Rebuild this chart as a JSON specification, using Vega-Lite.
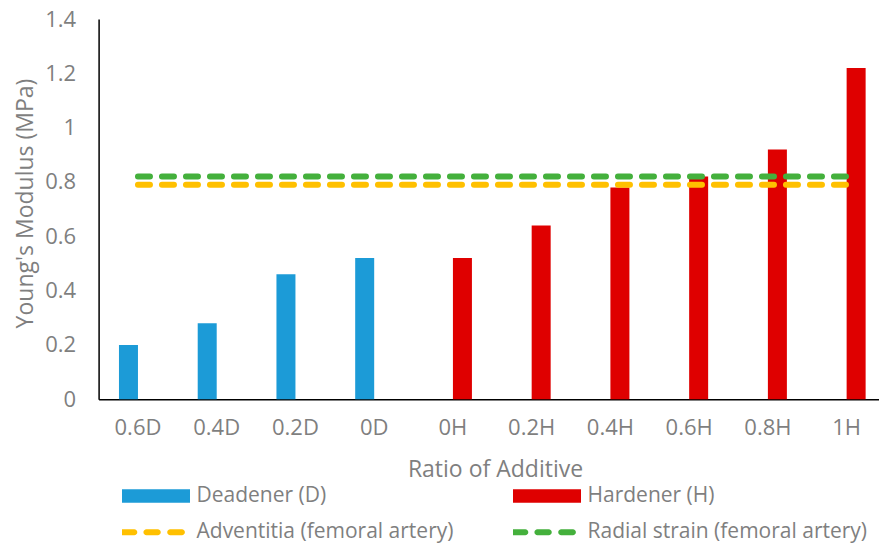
{
  "$schema": "https://vega.github.io/schema/vega-lite/v6.json",
  "width": 780.4,
  "height": 380.3,
  "autosize": {"type": "none"},
  "padding": {"left": 98.6, "top": 19, "right": 0, "bottom": 143.7},
  "background": "white",
  "config": {
    "view": {"stroke": null},
    "font": "Open Sans",
    "axis": {
      "grid": false,
      "ticks": false,
      "tickSize": 0,
      "domainColor": "#000000",
      "domainWidth": 1.5,
      "labelColor": "#7f7f7f",
      "labelFontSize": 22,
      "labelFont": "Open Sans",
      "titleColor": "#7f7f7f",
      "titleFont": "Open Sans",
      "titleFontSize": 23,
      "titleFontWeight": "normal"
    }
  },
  "datasets": {
    "bars": [
      {"ratio": "0.6D", "series": "Deadener (D)", "modulus": 0.2},
      {"ratio": "0.4D", "series": "Deadener (D)", "modulus": 0.28},
      {"ratio": "0.2D", "series": "Deadener (D)", "modulus": 0.46},
      {"ratio": "0D", "series": "Deadener (D)", "modulus": 0.52},
      {"ratio": "0H", "series": "Hardener (H)", "modulus": 0.52},
      {"ratio": "0.2H", "series": "Hardener (H)", "modulus": 0.64},
      {"ratio": "0.4H", "series": "Hardener (H)", "modulus": 0.78},
      {"ratio": "0.6H", "series": "Hardener (H)", "modulus": 0.82},
      {"ratio": "0.8H", "series": "Hardener (H)", "modulus": 0.92},
      {"ratio": "1H", "series": "Hardener (H)", "modulus": 1.22}
    ],
    "references": [
      {"ratio": "0.6D", "series": "Adventitia (femoral artery)", "modulus": 0.79},
      {"ratio": "0.4D", "series": "Adventitia (femoral artery)", "modulus": 0.79},
      {"ratio": "0.2D", "series": "Adventitia (femoral artery)", "modulus": 0.79},
      {"ratio": "0D", "series": "Adventitia (femoral artery)", "modulus": 0.79},
      {"ratio": "0H", "series": "Adventitia (femoral artery)", "modulus": 0.79},
      {"ratio": "0.2H", "series": "Adventitia (femoral artery)", "modulus": 0.79},
      {"ratio": "0.4H", "series": "Adventitia (femoral artery)", "modulus": 0.79},
      {"ratio": "0.6H", "series": "Adventitia (femoral artery)", "modulus": 0.79},
      {"ratio": "0.8H", "series": "Adventitia (femoral artery)", "modulus": 0.79},
      {"ratio": "1H", "series": "Adventitia (femoral artery)", "modulus": 0.79},
      {"ratio": "0.6D", "series": "Radial strain (femoral artery)", "modulus": 0.82},
      {"ratio": "0.4D", "series": "Radial strain (femoral artery)", "modulus": 0.82},
      {"ratio": "0.2D", "series": "Radial strain (femoral artery)", "modulus": 0.82},
      {"ratio": "0D", "series": "Radial strain (femoral artery)", "modulus": 0.82},
      {"ratio": "0H", "series": "Radial strain (femoral artery)", "modulus": 0.82},
      {"ratio": "0.2H", "series": "Radial strain (femoral artery)", "modulus": 0.82},
      {"ratio": "0.4H", "series": "Radial strain (femoral artery)", "modulus": 0.82},
      {"ratio": "0.6H", "series": "Radial strain (femoral artery)", "modulus": 0.82},
      {"ratio": "0.8H", "series": "Radial strain (femoral artery)", "modulus": 0.82},
      {"ratio": "1H", "series": "Radial strain (femoral artery)", "modulus": 0.82}
    ]
  },
  "encoding": {
    "x": {
      "field": "ratio",
      "type": "nominal",
      "sort": null,
      "scale": {
        "type": "band",
        "domain": ["0.6D", "0.4D", "0.2D", "0D", "0H", "0.2H", "0.4H", "0.6H", "0.8H", "1H"],
        "paddingInner": 0.5174,
        "paddingOuter": 0.2587,
        "range": [0, 787.4]
      },
      "axis": {
        "title": "Ratio of Additive",
        "labelAngle": 0,
        "labelPadding": 18,
        "titleX": 396.4,
        "titleY": 77.4,
        "titleBaseline": "alphabetic",
        "titleAnchor": "middle"
      }
    },
    "y": {
      "field": "modulus",
      "type": "quantitative",
      "scale": {"domain": [0, 1.4], "nice": false, "zero": true},
      "axis": {
        "title": "Young's Modulus (MPa)",
        "values": [0, 0.2, 0.4, 0.6, 0.8, 1, 1.2, 1.4],
        "format": ".1~f",
        "labelPadding": 23,
        "titleX": -66.6,
        "titleY": 184,
        "titleAngle": -90,
        "titleBaseline": "alphabetic",
        "titleAnchor": "middle"
      }
    },
    "color": {
      "field": "series",
      "type": "nominal",
      "scale": {
        "domain": ["Deadener (D)", "Hardener (H)", "Adventitia (femoral artery)", "Radial strain (femoral artery)"],
        "range": ["#1c9bd7", "#df0000", "#ffc000", "#44b03c"]
      },
      "legend": {
        "title": null,
        "orient": "none",
        "direction": "horizontal",
        "legendX": 23.4,
        "legendY": 464,
        "columns": 2,
        "columnPadding": 36,
        "rowPadding": 10.3,
        "clipHeight": 26,
        "symbolSize": 4624,
        "symbolType": "M-1,-0.2H1V0.2H-1Z",
        "labelFont": "Open Sans",
        "labelFontSize": 21,
        "labelColor": "#7f7f7f",
        "labelOffset": 6.5,
        "labelLimit": 400,
        "gridAlign": "all",
        "symbolOpacity": 1,
        "symbolStrokeWidth": 0,
        "encode": {
          "symbols": {
            "update": {
              "fill": {"scale": "color", "field": "value"},
              "stroke": {"value": "transparent"},
              "strokeWidth": {"value": 0},
              "opacity": {"value": 1},
              "shape": {"signal": "indexof(['Deadener (D)', 'Hardener (H)'], datum.value) >= 0 ? 'M-1,-0.2H1V0.2H-1Z' : 'M-0.992,-0.088H-0.638A0.088,0.088,0,0,1,-0.638,0.088H-0.992A0.088,0.088,0,0,1,-0.992,-0.088ZM-0.282,-0.088H0.052A0.088,0.088,0,0,1,0.052,0.088H-0.282A0.088,0.088,0,0,1,-0.282,-0.088ZM0.418,-0.088H0.762A0.088,0.088,0,0,1,0.762,0.088H0.418A0.088,0.088,0,0,1,0.418,-0.088Z'"}
            }
          }
        }
      }
    }
  },
  "layer": [
    {
      "data": {"name": "bars"},
      "mark": {"type": "bar"},
      "encoding": {
        "xOffset": {
          "field": "series",
          "type": "nominal",
          "scale": {"domain": ["Deadener (D)", "Hardener (H)"], "paddingInner": 0, "paddingOuter": 0}
        }
      }
    },
    {
      "data": {"name": "references"},
      "mark": {"type": "line", "strokeWidth": 6, "strokeDash": [12, 12], "strokeCap": "round"},
      "encoding": {}
    }
  ]
}
